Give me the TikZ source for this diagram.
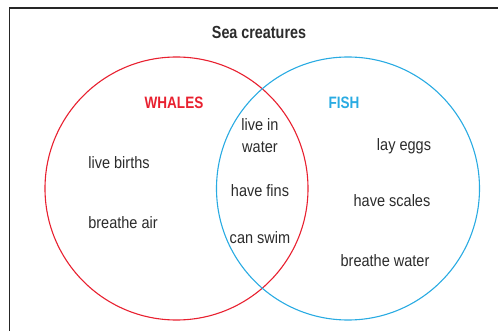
\documentclass[tikz,border=0pt]{standalone}
\usepackage{fontspec}
\setmainfont{Liberation Sans}
\newfontfamily\bodyf[FakeStretch=0.88]{Liberation Sans}
\newfontfamily\headf[FakeStretch=0.82]{Liberation Sans}
\definecolor{whalered}{HTML}{E8202F}
\definecolor{fishblue}{HTML}{29ABE2}
\definecolor{txt}{HTML}{2B2B2B}
\tikzset{
  setcircle/.style={circle, inner sep=0pt, minimum size=263pt, line width=1.1pt},
  item/.style={text=txt, font=\bodyf\fontsize{16.5}{20}\selectfont, align=center, inner sep=0pt},
  head/.style={font=\headf\bfseries\fontsize{16.5}{19}\selectfont, inner sep=0pt},
}
\begin{document}
\begin{tikzpicture}[x=1pt,y=-1pt]
\useasboundingbox (0,0) rectangle (498,331);
\clip (0,0) rectangle (498,331);
\coordinate (fbl) at (9.5,340);
\coordinate (ftl) at (9.5,8);
\coordinate (ftr) at (510,8);
\draw[line width=1.4pt, black!85] (fbl) -- (ftl) -- (ftr);
\node[head, text=txt, font=\headf\bfseries\fontsize{17.5}{20}\selectfont] (title) at (259,32) {Sea creatures};
\node[setcircle, draw=whalered] (whales) at (176.5,188.5) {};
\node[setcircle, draw=fishblue] (fish) at (348,188.5) {};
\node[head, text=whalered] (wh) at (174,103) {WHALES};
\node[head, text=fishblue] (fh) at (344,103) {FISH};
\node[item] (lb) at (119,163) {live births};
\node[item] (ba) at (123,223) {breathe air};
\node[item] (liw) at (260,136) {live in\\[2pt]water};
\node[item] (hf) at (260,191) {have fins};
\node[item] (cs) at (260,238) {can swim};
\node[item] (le) at (404,146) {lay eggs};
\node[item] (hs) at (392,201) {have scales};
\node[item] (bw) at (385,261) {breathe water};
\end{tikzpicture}
\end{document}
